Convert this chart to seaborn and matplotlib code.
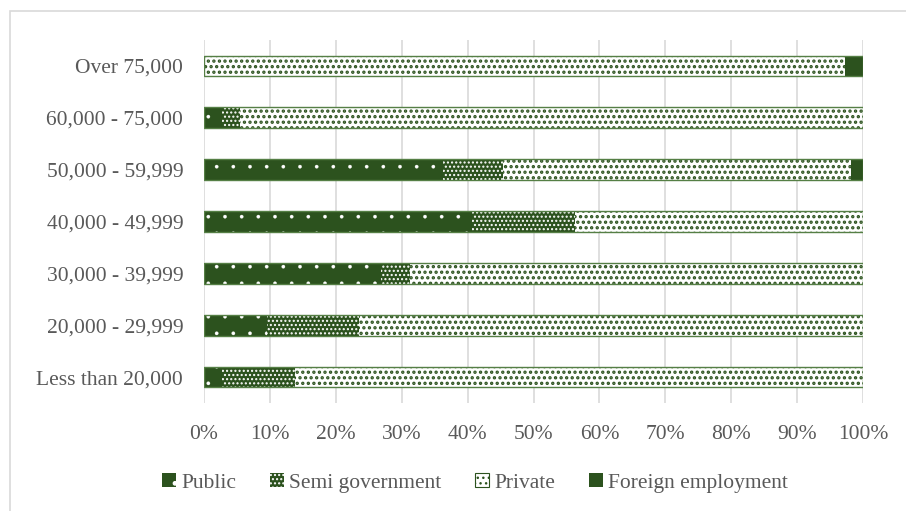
import numpy as np
import pandas as pd
import matplotlib
matplotlib.use("Agg")
import matplotlib.pyplot as plt
import seaborn as sns
from matplotlib.patches import Rectangle, Patch

# Income groups, top to bottom as shown
categories = ["Over 75,000", "60,000 - 75,000", "50,000 - 59,999", "40,000 - 49,999",
              "30,000 - 39,999", "20,000 - 29,999", "Less than 20,000"]

# share of employment (%) per group
public = [0.0, 2.7, 36.3, 40.7, 26.9, 9.6, 2.7]
semi_gov = [0.0, 2.8, 9.1, 15.6, 4.4, 13.9, 11.1]
private = [97.3, 94.5, 52.8, 43.7, 68.7, 76.5, 86.2]
foreign = [2.7, 0.0, 1.8, 0.0, 0.0, 0.0, 0.0]

series = ["Public", "Semi government", "Private", "Foreign employment"]
values = [public, semi_gov, private, foreign]

GREEN = "#2c521e"
EDGE = "#557f45"
TEXT = "#595959"

sns.set_theme(style="white")
plt.rcParams["font.family"] = ["Liberation Serif", "DejaVu Serif"]

df = pd.DataFrame({"group": categories})
cum = np.zeros(len(categories))
for name, v in zip(series, values):
    cum = cum + np.array(v)
    df[name] = cum

# look of each segment: face, hatch colour, hatch, hatch line width
styles = {
    "Public": (GREEN, "white", ".", 0.2),
    "Semi government": (GREEN, "white", "....", 1.0),
    "Private": ("white", GREEN, "...", 1.6),
    "Foreign employment": (GREEN, GREEN, None, 1.0),
}

fig = plt.figure(figsize=(9.06, 5.11), dpi=100)
ax = fig.add_axes([204 / 906, 1 - 403 / 511, 659 / 906, 363 / 511])

# draw the cumulative bars from the widest down so the stack builds up
for name in reversed(series):
    face, hcol, hatch, hlw = styles[name]
    with plt.rc_context({"hatch.linewidth": hlw}):
        sns.barplot(data=df, x=name, y="group", orient="h", color=face,
                    edgecolor=hcol, linewidth=0, hatch=hatch, width=0.4,
                    saturation=1, ax=ax, zorder=3)

# thin outline around every full bar
sns.barplot(data=df, x="Foreign employment", y="group", orient="h", fill=False,
            color=EDGE, linewidth=1.0, width=0.4, ax=ax, zorder=4)

ax.set_xlim(0, 100)
ax.set_ylim(6.5, -0.5)
ax.set_xticks(np.arange(0, 101, 10))
ax.set_xticklabels([f"{t}%" for t in range(0, 101, 10)])
ax.xaxis.grid(True, color="#d9d9d9", linewidth=1.2, zorder=0)
ax.yaxis.grid(False)
for s in ax.spines.values():
    s.set_visible(False)
ax.set_xlabel("")
ax.set_ylabel("")
ax.tick_params(axis="x", length=0, pad=16, labelsize=15.5, labelcolor=TEXT)
ax.tick_params(axis="y", length=0, pad=15, labelsize=15.5, labelcolor=TEXT)
ax.set_axisbelow(True)

handles = []
for n in series:
    face, hcol, hatch, hlw = styles[n]
    with plt.rc_context({"hatch.linewidth": hlw}):
        handles.append(Patch(facecolor=face, edgecolor=hcol, hatch=hatch, linewidth=0))
handles[2] = Patch(facecolor="white", edgecolor=GREEN, hatch="...", linewidth=0.8)
leg = fig.legend(handles, series, loc="center", bbox_to_anchor=(475 / 906, 1 - 483 / 511),
                 ncol=4, frameon=False, fontsize=15.5, handlelength=0.65, handleheight=0.65,
                 handletextpad=0.25, columnspacing=1.55)
for t in leg.get_texts():
    t.set_color(TEXT)

# chart frame, open to the right and bottom like the source crop
fig.patches.append(Rectangle((10 / 906, -0.1), 1.2, 1 - 11 / 511 + 0.1,
                             transform=fig.transFigure, fill=False,
                             edgecolor="#d9d9d9", linewidth=1.2))

fig.savefig("out.png", dpi=100)
